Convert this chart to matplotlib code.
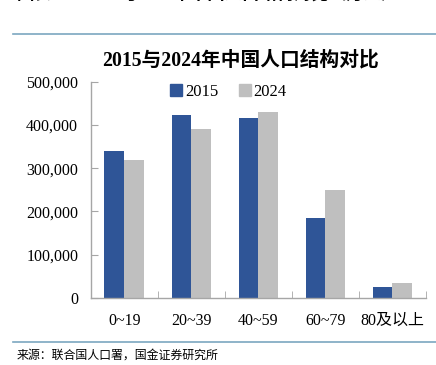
import matplotlib
matplotlib.use("Agg")
import matplotlib.pyplot as plt
import numpy as np
from matplotlib.ticker import FuncFormatter
from matplotlib.lines import Line2D

categories = ["0~19", "20~39", "40~59", "60~79", "80及以上"]
series_names = ["2015", "2024"]
values_2015 = [340000, 424000, 417000, 186000, 26000]
values_2024 = [319000, 390000, 431000, 249000, 34000]
yticks = [0, 100000, 200000, 300000, 400000, 500000]

FAM = ["Liberation Serif", "Noto Sans CJK SC", "DejaVu Sans"]
plt.rcParams['font.family'] = FAM

W, H = 436, 365
fig = plt.figure(figsize=(W / 100, H / 100), dpi=100)

ax = fig.add_axes([90.7 / W, 1 - 298 / H, (426 - 90.7) / W, (298 - 81.7) / H])

x = np.arange(len(categories))
bw = 0.295
blue = "#2F5597"
grey = "#BFBFBF"
ax.bar(x - bw / 2, values_2015, bw, color=blue, label=series_names[0])
ax.bar(x + bw / 2, values_2024, bw, color=grey, label=series_names[1])

ax.set_xlim(-0.5, len(categories) - 0.5)
ax.set_ylim(0, 500000)
ax.set_yticks(yticks)
ax.yaxis.set_major_formatter(FuncFormatter(lambda v, p: f"{int(v):,}"))
ax.set_xticks(x)
ax.set_xticklabels(categories)
ax.set_xticks(np.arange(len(categories) + 1) - 0.5, minor=True)

for s in ["top", "right"]:
    ax.spines[s].set_visible(False)
for s in ["left", "bottom"]:
    ax.spines[s].set_color("#A6A6A6")
    ax.spines[s].set_linewidth(1.0)

ax.tick_params(axis="y", direction="in", length=5, color="#A6A6A6", labelsize=11.5, pad=9)
ax.tick_params(axis="x", which="major", length=0, labelsize=11.5, pad=11)
ax.tick_params(axis="x", which="minor", direction="in", length=5, color="#A6A6A6")
for lab in ax.get_xticklabels() + ax.get_yticklabels():
    lab.set_family(FAM)

# legend
handles = [Line2D([], [], marker="s", linestyle="none", markersize=8, color=blue),
           Line2D([], [], marker="s", linestyle="none", markersize=8, color=grey)]
fig.legend(handles, series_names, loc="center", bbox_to_anchor=(228 / W, 1 - 92 / H),
           ncol=2, frameon=False, prop={"family": FAM, "size": 12},
           handlelength=0.8, handletextpad=0.1, columnspacing=1.2, borderaxespad=0)

# title
fig.text(240 / W, 1 - 60 / H, "2015与2024年中国人口结构对比", ha="center", va="center",
         fontsize=14.2, fontweight="bold", family=FAM)

# cut-off caption at very top (as in the reference)
fig.text(17 / W, 1 - 3 / H, "图表15：2015与2024年中国人口结构对比（万人）", ha="left", va="bottom",
         fontsize=12.5, fontweight="bold", family=FAM)

# separators
fig.add_artist(Line2D([13 / W, 1], [1 - 34 / H, 1 - 34 / H], color="#7BA7C0", lw=1.2))
fig.add_artist(Line2D([13 / W, 1], [1 - 341.5 / H, 1 - 341.5 / H], color="#7BA7C0", lw=1.2))

# source
fig.text(17 / W, 1 - 355 / H, "来源：联合国人口署，国金证券研究所", ha="left", va="center",
         fontsize=8.6, family=["Noto Sans CJK SC", "DejaVu Sans"])

fig.savefig("out.png", dpi=100)
